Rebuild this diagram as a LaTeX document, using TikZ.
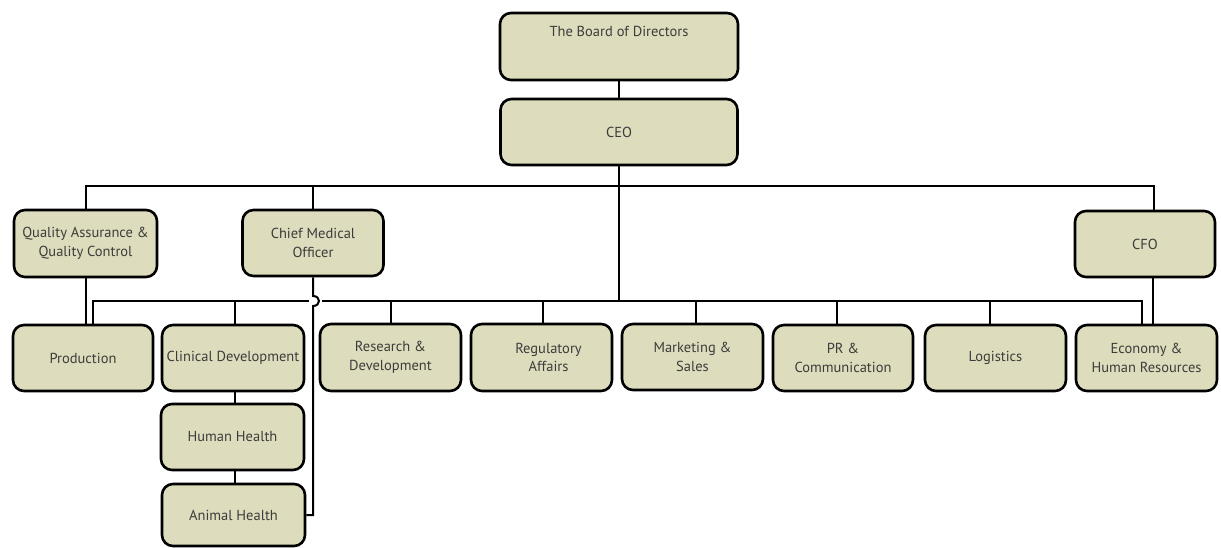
\documentclass[tikz,border=0pt]{standalone}
\usepackage{fontspec}
\setmainfont{PT Sans}
\begin{document}
\begin{tikzpicture}[x=1pt,y=-1pt,
  box/.style={draw=black, line width=2.6pt, fill=boxfill, rounded corners=11pt,
    align=center, text=boxtext, font=\fontsize{14.5}{18.5}\selectfont, inner sep=2pt},
  conn/.style={draw=black, line width=2pt}]
\definecolor{boxfill}{RGB}{221,220,188}
\definecolor{boxtext}{RGB}{60,60,60}
\useasboundingbox (0,0) rectangle (1221,548);
% top
\node[box, minimum width=238, minimum height=67,
  label={[name=boardlbl, text=boxtext, font=\fontsize{14.5}{18.5}\selectfont, yshift=15pt]center:The Board of Directors}]
  (board) at (619,46.5) {};
\node[box, minimum width=237, minimum height=66] (ceo) at (619,132) {CEO};
% second row
\node[box, minimum width=143, minimum height=67] (qa) at (85.5,243.5) {Quality Assurance \&\\Quality Control};
\node[box, minimum width=141, minimum height=66] (cmo) at (313,243) {Chief Medical\\Officer};
\node[box, minimum width=140, minimum height=66] (cfo) at (1145,244) {CFO};
% bottom row
\node[box, minimum width=140, minimum height=66] (prod) at (83,358) {Production};
\node[box, minimum width=142, minimum height=66] (cd) at (233,358) {Clinical Development};
\node[box, minimum width=141, minimum height=67] (rd) at (390.5,357.5) {Research \&\\Development};
\node[box, minimum width=141, minimum height=67] (reg) at (541.5,357.5) {\hspace*{14pt}Regulatory\\\hspace*{14pt}Affairs};
\node[box, minimum width=141, minimum height=66] (mkt) at (692.5,357) {Marketing \&\\Sales};
\node[box, minimum width=140, minimum height=66] (pr) at (843,358) {PR \&\\Communication};
\node[box, minimum width=141, minimum height=66] (log) at (995.5,358) {Logistics};
\node[box, minimum width=141, minimum height=66] (econ) at (1146.5,358) {Economy \&\\Human Resources};
\node[box, minimum width=143, minimum height=66] (hh) at (232.5,437) {Human Health};
\node[box, minimum width=143, minimum height=62] (ah) at (233.5,515) {Animal Health};
% coordinates
\coordinate (busT) at (619,186);
\coordinate (busB) at (619,301);
\coordinate (cfoTop) at (1154,211);
\coordinate (prodIn) at (93,325);
\coordinate (econIn) at (1142,325);
\coordinate (hopL) at (309,301);
\coordinate (hopR) at (322,301);
\coordinate (hopTop) at (313,296);
\coordinate (hopBot) at (313,306);
% connectors
\draw[conn] (board.south) -- (ceo.north);
\draw[conn] (ceo.south) -- (busB);
\draw[conn] (qa.north) |- (busT) -| (cfoTop);
\draw[conn] (cmo.north) -- (cmo.north |- busT);
\draw[conn] (prodIn) |- (hopL);
\draw[conn] (hopR) -| (econIn);
\draw[conn] (cmo.south) -- (hopTop) .. controls (321,296) and (321,306) .. (hopBot) |- (ah.east);
\draw[conn] (qa.south) -- (qa.south |- prod.north);
\draw[conn] ([xshift=8pt]cfo.south) -- ([xshift=8pt]cfo.south |- econ.north);
\draw[conn] ([xshift=2pt]cd.north) -- ([xshift=2pt]cd.north |- busB);
\draw[conn] (rd.north) -- (rd.north |- busB);
\draw[conn] ([xshift=1.5pt]reg.north) -- ([xshift=1.5pt]reg.north |- busB);
\draw[conn] ([xshift=3.5pt]mkt.north) -- ([xshift=3.5pt]mkt.north |- busB);
\draw[conn] ([xshift=-6pt]pr.north) -- ([xshift=-6pt]pr.north |- busB);
\draw[conn] ([xshift=-5.5pt]log.north) -- ([xshift=-5.5pt]log.north |- busB);
\draw[conn] ([xshift=2pt]cd.south) -- ([xshift=2pt]cd.south |- hh.north);
\draw[conn] ([xshift=2pt]hh.south) -- ([xshift=2pt]hh.south |- ah.north);
\end{tikzpicture}
\end{document}
